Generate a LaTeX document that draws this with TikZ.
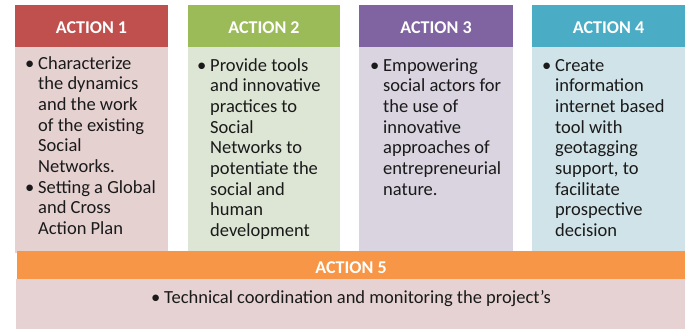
\documentclass[tikz,border=0pt]{standalone}
\usepackage{fontspec}
\setmainfont{Carlito}
\definecolor{hred}{HTML}{C0504D}
\definecolor{bred}{HTML}{E6D1D1}
\definecolor{hgreen}{HTML}{9BBB59}
\definecolor{bgreen}{HTML}{DDE5D4}
\definecolor{hpurple}{HTML}{8064A2}
\definecolor{bpurple}{HTML}{DAD3E0}
\definecolor{hteal}{HTML}{4BACC6}
\definecolor{bteal}{HTML}{D0E3E8}
\definecolor{horange}{HTML}{F79646}
\definecolor{borange}{HTML}{E6D2D2}
\definecolor{txt}{HTML}{1A1A1A}
\begin{document}
\begin{tikzpicture}[x=1pt,y=-1pt,
  panel/.style={draw=none,inner sep=0pt,outer sep=0pt,anchor=north west},
  headtext/.style={text=white,font=\fontsize{18}{22}\selectfont\bfseries,inner sep=0pt,anchor=base},
  bodytext/.style={text=txt,font=\fontsize{18.5}{20.7}\selectfont,inner sep=0pt,anchor=base west,align=left},
  bul/.style={text=txt,font=\fontsize{18.5}{20.7}\selectfont,inner sep=0pt,anchor=base west}]
\useasboundingbox (0,0) rectangle (688,330);
% Action 1
\node[panel,fill=bred,minimum width=153pt,minimum height=206pt] (b1) at (15,47) {};
\node[panel,fill=hred,minimum width=153pt,minimum height=42pt] (h1) at (15,5) {};
% Action 2
\node[panel,fill=bgreen,minimum width=152pt,minimum height=204pt] (b2) at (188,47) {};
\node[panel,fill=hgreen,minimum width=152pt,minimum height=42pt] (h2) at (188,5) {};
% Action 3
\node[panel,fill=bpurple,minimum width=154pt,minimum height=204pt] (b3) at (359,47) {};
\node[panel,fill=hpurple,minimum width=154pt,minimum height=42pt] (h3) at (359,5) {};
% Action 4
\node[panel,fill=bteal,minimum width=153pt,minimum height=204pt] (b4) at (532,47) {};
\node[panel,fill=hteal,minimum width=153pt,minimum height=42pt] (h4) at (532,5) {};
% Action 5
\node[panel,fill=borange,minimum width=669pt,minimum height=50pt] (b5) at (16,279) {};
\node[panel,fill=horange,minimum width=668pt,minimum height=28pt] (h5) at (17,251) {};

\node[headtext] (t1) at (91.5,33) {ACTION 1};
\node[headtext] (t2) at (264,33) {ACTION 2};
\node[headtext] (t3) at (436,33) {ACTION 3};
\node[headtext] (t4) at (608.5,33) {ACTION 4};
\node[headtext] (t5) at (351,273) {ACTION 5};

% bodies (base anchor = baseline of last line)
\node[bul] (u1a) at (25,69) {\textbullet};
\node[bodytext] (x1a) at (38,172.5) {Characterize\\the dynamics\\and the work\\of the existing\\Social\\Networks.};
\node[bul] (u1b) at (25,193) {\textbullet};
\node[bodytext] (x1b) at (38,234.4) {Setting a Global\\and Cross\\Action Plan};

\node[bul] (u2) at (197,71) {\textbullet};
\node[bodytext] (x2) at (210,236.6) {Provide tools\\and innovative\\practices to\\Social\\Networks to\\potentiate the\\social and\\human\\development};

\node[bul] (u3) at (370,71) {\textbullet};
\node[bodytext] (x3) at (383,195.2) {Empowering\\social actors for\\the use of\\innovative\\approaches of\\entrepreneurial\\nature.};

\node[bul] (u4) at (542,71) {\textbullet};
\node[bodytext] (x4) at (555,236.6) {Create\\information\\internet based\\tool with\\geotagging\\support, to\\facilitate\\prospective\\decision};

\node[bodytext,anchor=base] (x5) at (351,303) {\textbullet\hspace{4pt}Technical coordination and monitoring the project{\char"0027}s};
\end{tikzpicture}
\end{document}
